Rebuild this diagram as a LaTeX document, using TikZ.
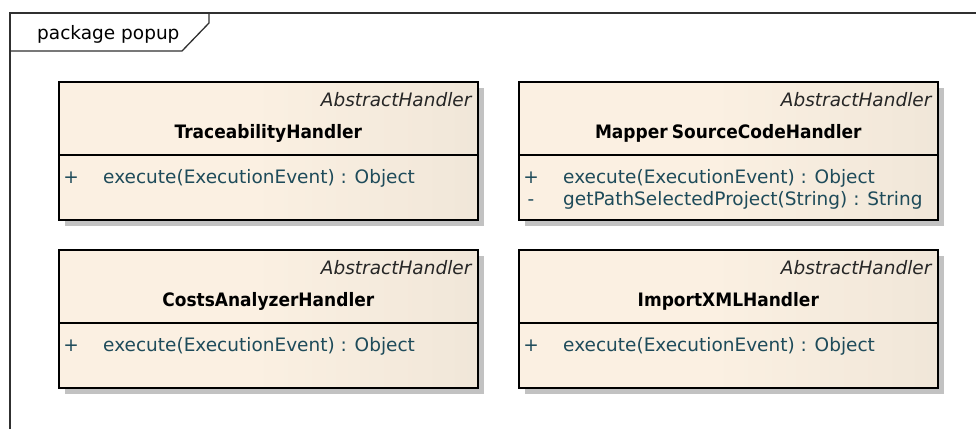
\documentclass[tikz,border=0pt]{standalone}
\usepackage{fontspec}
\setmainfont{DejaVu Sans}
\newfontfamily\namefont{DejaVu Sans}[FakeStretch=0.92]
\usetikzlibrary{shadows}

\definecolor{cream}{HTML}{FBF0E2}
\definecolor{tan}{HTML}{E0D8CA}
\definecolor{optext}{HTML}{1E4B5A}
\definecolor{framecol}{HTML}{303030}
\definecolor{shadowcol}{HTML}{C2C2C2}

\pgfdeclarehorizontalshading{classfill}{100bp}{%
  color(0bp)=(cream); color(48bp)=(cream); color(72bp)=(cream!65!tan); color(100bp)=(tan)}

\tikzset{
  txt/.style={inner sep=0pt, font=\fontsize{18.5}{22}\selectfont},
  classbox/.style={draw=black, line width=1.6pt, shading=classfill, anchor=north west,
    minimum width=419pt, minimum height=138pt, inner sep=0pt,
    drop shadow={shadow xshift=6pt, shadow yshift=-6pt, fill=shadowcol, opacity=1}},
  stereo/.style={txt, anchor=base east, text=black!85, font=\fontsize{18.5}{22}\selectfont\itshape},
  cname/.style={txt, anchor=base, text=black, font=\fontsize{18.5}{22}\namefont\bfseries},
  vis/.style={txt, anchor=base, text=optext},
  oper/.style={txt, anchor=base west, text=optext},
  sepline/.style={draw=black, line width=1.6pt},
  pkgline/.style={draw=framecol, line width=1.3pt}
}

\begin{document}
\begin{tikzpicture}[x=1pt, y=-1pt]
\useasboundingbox (0,0) rectangle (976,429);

% package frame and its name tab
\coordinate (ftl) at (10,13);
\coordinate (ftr) at (976,13);
\coordinate (fbl) at (10,429);
\coordinate (tabr) at (209,13);
\coordinate (tabk) at (209,23);
\coordinate (tabb) at (182,51);
\coordinate (tabl) at (10,51);
\draw[pkgline] (fbl) -- (ftl) -- (ftr);
\draw[pkgline] (tabl) -- (tabb) -- (tabk) -- (tabr);
\node[txt, anchor=base west] (pkg) at (37,39) {package popup};

% one class: #1 name, #2 north-west corner, #3 separator offset, #4 title
\newcommand{\umlclass}[4]{%
  \node[classbox] (#1) at (#2) {};
  \draw[sepline] ([yshift=-#3pt]#1.north west) -- ([yshift=-#3pt]#1.north east);
  \node[stereo] (#1-st) at ([xshift=-7pt, yshift=-25pt]#1.north east) {AbstractHandler};
  \node[cname] (#1-nm) at ([yshift=-57pt]#1.north) {#4};
}

\umlclass{trace}{58,81}{74}{TraceabilityHandler}
\umlclass{mapper}{518,81}{74}{{\spaceskip=0.22em\relax Mapper SourceCodeHandler}}
\umlclass{costs}{58,249}{74}{CostsAnalyzerHandler}
\umlclass{import}{518,249}{74}{ImportXMLHandler}

% operations
\node[vis]  (trace-v1) at ([xshift=13pt, yshift=-102pt]trace.north west) {+};
\node[oper] (trace-o1) at ([xshift=45pt, yshift=-102pt]trace.north west) {execute(ExecutionEvent) : Object};

\node[vis]  (mapper-v1) at ([xshift=13pt, yshift=-102pt]mapper.north west) {+};
\node[oper] (mapper-o1) at ([xshift=45pt, yshift=-102pt]mapper.north west) {execute(ExecutionEvent) : Object};
\node[vis]  (mapper-v2) at ([xshift=13pt, yshift=-124pt]mapper.north west) {-};
\node[oper] (mapper-o2) at ([xshift=45pt, yshift=-124pt]mapper.north west) {getPathSelectedProject(String) : String};

\node[vis]  (costs-v1) at ([xshift=13pt, yshift=-102pt]costs.north west) {+};
\node[oper] (costs-o1) at ([xshift=45pt, yshift=-102pt]costs.north west) {execute(ExecutionEvent) : Object};

\node[vis]  (import-v1) at ([xshift=13pt, yshift=-102pt]import.north west) {+};
\node[oper] (import-o1) at ([xshift=45pt, yshift=-102pt]import.north west) {execute(ExecutionEvent) : Object};
\end{tikzpicture}
\end{document}
